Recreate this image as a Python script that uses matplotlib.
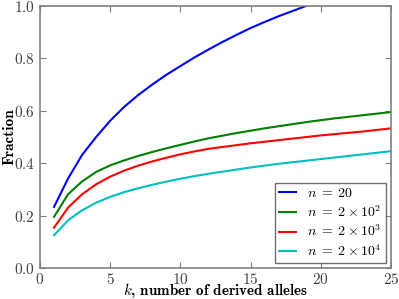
import matplotlib
matplotlib.use('Agg')
import matplotlib.pyplot as plt
import numpy as np

plt.rcParams['font.family'] = 'cmr10'
plt.rcParams['mathtext.fontset'] = 'cm'
plt.rcParams['axes.formatter.use_mathtext'] = True

k_blue = np.arange(1, 20)
k_all = np.arange(1, 26)

frac_n20 = [0.234, 0.342, 0.432, 0.500, 0.562, 0.615, 0.660, 0.700, 0.737,
            0.770, 0.803, 0.833, 0.862, 0.889, 0.915, 0.938, 0.960, 0.980, 1.0]
frac_n2e2 = [0.196, 0.282, 0.331, 0.367, 0.392, 0.411, 0.428, 0.443, 0.457,
             0.470, 0.483, 0.495, 0.505, 0.515, 0.524, 0.533, 0.541, 0.549,
             0.557, 0.564, 0.571, 0.577, 0.583, 0.589, 0.595]
frac_n2e3 = [0.155, 0.231, 0.282, 0.320, 0.349, 0.372, 0.391, 0.407, 0.421,
             0.434, 0.445, 0.455, 0.462, 0.469, 0.476, 0.482, 0.488, 0.494,
             0.500, 0.506, 0.511, 0.516, 0.521, 0.527, 0.533]
frac_n2e4 = [0.126, 0.183, 0.221, 0.250, 0.272, 0.290, 0.305, 0.318, 0.330,
             0.341, 0.351, 0.360, 0.368, 0.376, 0.384, 0.391, 0.398, 0.404,
             0.410, 0.416, 0.422, 0.428, 0.434, 0.440, 0.446]

labels = [r'$n \;=\; 20$', r'$n \;=\; 2 \times 10^2$',
          r'$n \;=\; 2 \times 10^3$', r'$n \;=\; 2 \times 10^4$']

fig = plt.figure(figsize=(3.99, 2.99), dpi=100)
ax = fig.add_axes([40/399, 1-268.3/299, 351/399, 262.6/299])

ax.plot(k_blue, frac_n20, color='#0000ff', lw=1.5, label=labels[0])
ax.plot(k_all, frac_n2e2, color='#008000', lw=1.5, label=labels[1])
ax.plot(k_all, frac_n2e3, color='#ff0000', lw=1.5, label=labels[2])
ax.plot(k_all, frac_n2e4, color='#00bfbf', lw=1.5, label=labels[3])

ax.set_xlim(0, 25)
ax.set_ylim(0, 1.0)
ax.set_xticks([0, 5, 10, 15, 20, 25])
ax.set_yticks([0.0, 0.2, 0.4, 0.6, 0.8, 1.0])
ax.tick_params(direction='in', top=True, right=True, length=4, labelsize=11,
               colors='0.5', labelcolor='0.25')
ax.tick_params(axis='x', pad=2.5)
for s in ax.spines.values():
    s.set_color('0.5')
    s.set_linewidth(1.2)

ax.set_xlabel(r'$k$, number of derived alleles', fontfamily='cmb10', fontsize=10.8)
ax.set_ylabel('Fraction', fontfamily='cmb10', fontsize=11)
ax.xaxis.label.set_va('center')
ax.yaxis.label.set_va('center')
ax.xaxis.set_label_coords(0.5, -0.086)
ax.yaxis.set_label_coords(-0.088, 0.5)

leg = ax.legend(loc='lower right', fontsize=10, fancybox=False, handlelength=1.25,
                handletextpad=0.8, borderpad=0.3, labelspacing=0.3,
                borderaxespad=0.35)
leg.get_frame().set_edgecolor('0.3')
leg.get_frame().set_linewidth(1.0)

fig.savefig('out.png', dpi=100)
